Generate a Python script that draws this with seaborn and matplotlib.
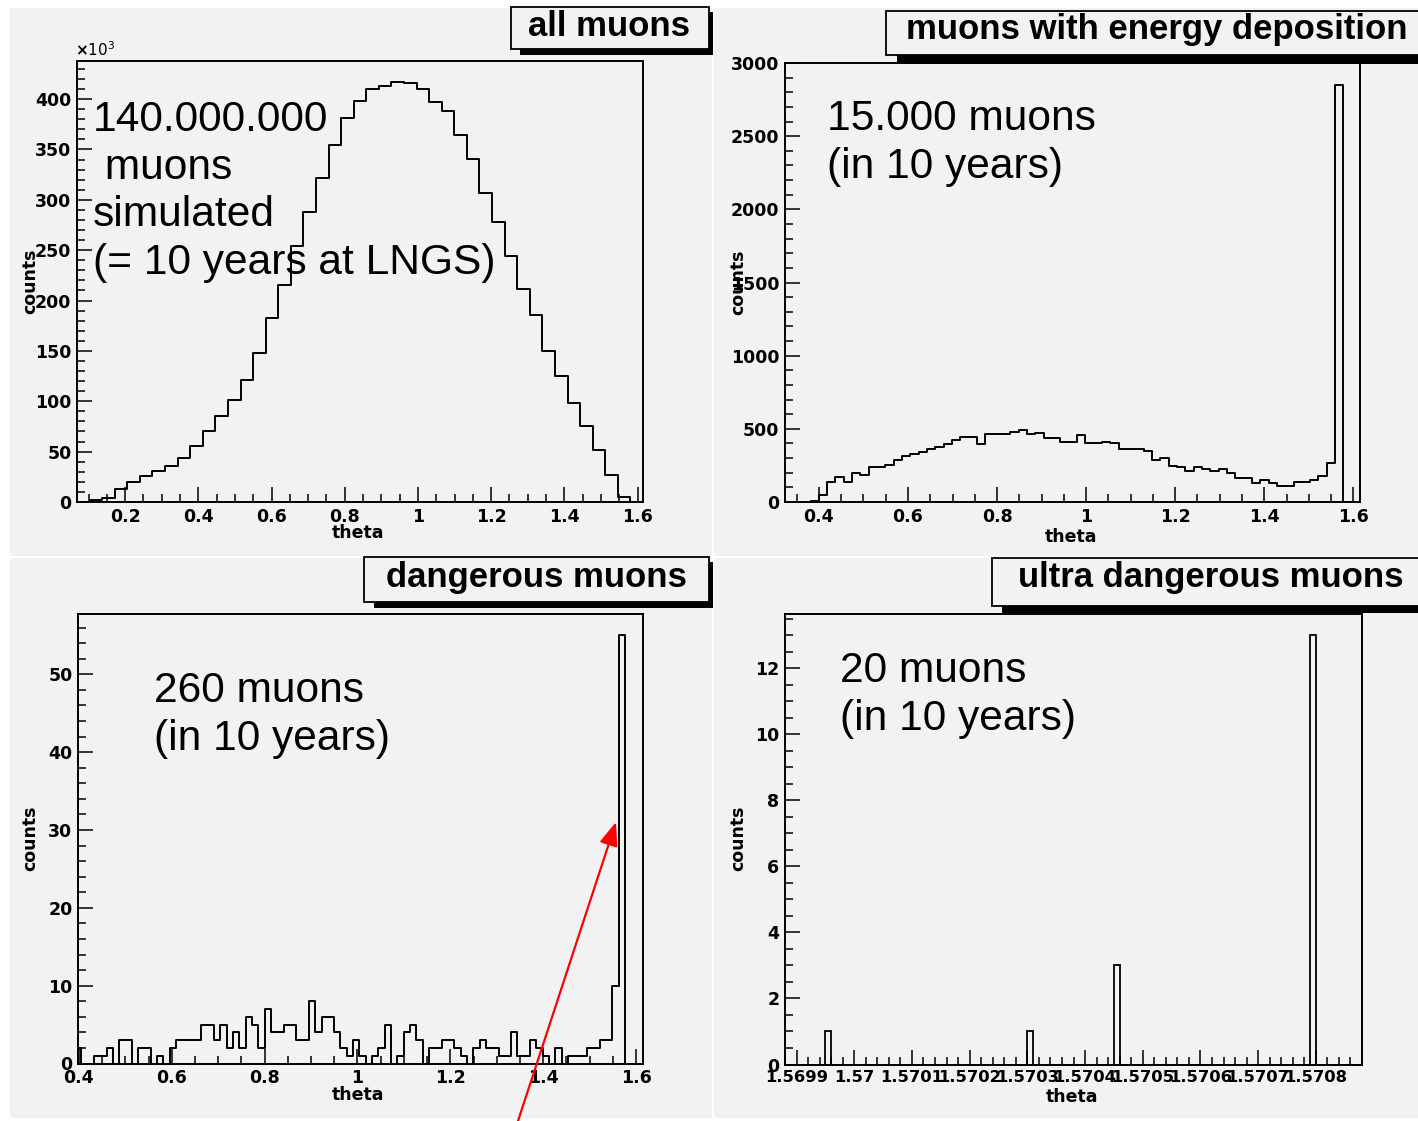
import numpy as np
import pandas as pd
import matplotlib
matplotlib.use("Agg")
import matplotlib.pyplot as plt
import seaborn as sns
from matplotlib.patches import Rectangle, FancyArrowPatch
from matplotlib.ticker import MultipleLocator, FixedLocator, FixedFormatter, FuncFormatter

# ---------------- data ----------------
# panel 1: all muons, counts in units of 10^3, 45 equal bins over the axis range
all_range = (0.0683, 1.615)
all_counts_k = [0, 2, 4, 13, 19.5, 25.5, 31, 36, 43.6, 55.7,
                70, 85, 101, 121, 148, 183, 215, 254, 288, 322,
                354, 381.5, 398.6, 410, 413.5, 417, 416, 410, 397, 388,
                364.5, 341, 307, 278, 244, 211, 185.6, 150, 125, 98.7,
                75.6, 52, 26.6, 5.3, 0]

# panel 2: muons with energy deposition
dep_first_edge = 0.3811
dep_bin_width = 0.0187
dep_counts = [10, 46, 139, 173, 139, 201, 185, 238, 238, 254,
              289, 312, 330, 339, 365, 376, 393, 427, 443, 443,
              393, 466, 466, 466, 478, 490, 462, 473, 439, 439,
              413, 413, 455, 404, 404, 413, 404, 365, 365, 365,
              351, 289, 300, 247, 238, 212, 238, 224, 215, 224,
              201, 162, 162, 127, 150, 127, 111, 111, 139, 139,
              150, 178, 266, 2850, 0]
dep_xlim = (0.3238, 1.615)
dep_ymax = 3000

# panel 3: dangerous muons
dan_first_edge = 0.3914
dan_bin_width = 0.013618
dan_counts = [2, 0, 0, 1, 1, 2, 0, 3, 3, 0,
              2, 2, 0, 1, 0, 2, 3, 3, 3, 3,
              5, 5, 3, 5, 2, 4, 2, 6, 5, 2,
              7, 4, 4, 5, 5, 3, 3, 8, 4, 6,
              6, 4, 2, 1, 3, 1, 0, 1, 2, 5,
              0, 1, 4, 5, 3, 0, 2, 2, 3, 3,
              2, 1, 0, 2, 3, 2, 2, 1, 1, 4,
              1, 1, 3, 2, 1, 0, 2, 0, 1, 1,
              1, 2, 2, 3, 3, 10, 55, 0, 0, 0]
dan_xlim = (0.398, 1.615)

# panel 4: ultra dangerous muons (bin centres and counts of the filled bins)
ultra_first_edge = 1.56988
ultra_bin_width = 1e-5
ultra_n_bins = 100
ultra_theta = [1.569955, 1.570305, 1.570455, 1.570795]
ultra_counts = [1, 1, 3, 13]
ultra_tick_values = [1.5699, 1.5700, 1.5701, 1.5702, 1.5703,
                     1.5704, 1.5705, 1.5706, 1.5707, 1.5708]
ultra_tick_labels = ["1.5699", "1.57", "1.5701", "1.5702", "1.5703",
                     "1.5704", "1.5705", "1.5706", "1.5707", "1.5708"]

titles = ["all muons", "muons with energy deposition",
          "dangerous muons", "ultra dangerous muons"]
notes = ["140.000.000\n muons\nsimulated\n(= 10 years at LNGS)",
         "15.000 muons\n(in 10 years)",
         "260 muons\n(in 10 years)",
         "20 muons\n(in 10 years)"]
x_label = "theta"
y_label = "counts"

# ---------------- style ----------------
sns.set_style("ticks")
plt.rcParams["font.family"] = ["DejaVu Sans"]
plt.rcParams["font.weight"] = "bold"
plt.rcParams["text.color"] = "black"
plt.rcParams["axes.labelcolor"] = "black"
plt.rcParams["xtick.color"] = "black"
plt.rcParams["ytick.color"] = "black"
plt.rcParams["mathtext.fontset"] = "dejavusans"
BG = "#f2f2f2"
W, H = 1418, 1121

fig = plt.figure(figsize=(W / 100, H / 100), dpi=100)
fig.patch.set_facecolor("white")


def fx(x):
    return x / W


def fy(y):
    return 1 - y / H


def rect_px(x0, y0, x1, y1, **kw):
    return Rectangle((fx(x0), fy(y1)), fx(x1) - fx(x0), fy(y0) - fy(y1),
                     transform=fig.transFigure, **kw)


# grey pads
for (x0, y0, x1, y1) in [(10, 8, 712, 556), (714, 8, 1418, 556),
                         (10, 558, 712, 1118), (714, 558, 1418, 1118)]:
    fig.add_artist(rect_px(x0, y0, x1, y1, facecolor=BG, edgecolor="none", zorder=-5))


def make_axes(l, t, r, b):
    ax = fig.add_axes([fx(l), fy(b), fx(r) - fx(l), fy(t) - fy(b)])
    ax.set_facecolor(BG)
    for s in ax.spines.values():
        s.set_linewidth(1.4)
        s.set_color("black")
        s.set_visible(True)
    ax.tick_params(which="both", direction="in", top=False, right=False,
                   width=1.1, labelsize=12.5, colors="black", pad=4)
    ax.tick_params(which="major", length=11)
    ax.tick_params(which="minor", length=5.5)
    return ax


gfmt = FuncFormatter(lambda v, p: f"{v:g}")


def step_hist(ax, edges, counts):
    centers = 0.5 * (edges[:-1] + edges[1:])
    df = pd.DataFrame({"theta": centers, "counts": counts})
    sns.histplot(data=df, x="theta", weights="counts", bins=list(edges),
                 element="step", fill=False, color="black", linewidth=1.4, ax=ax)
    ax.set_xlabel("")
    ax.set_ylabel("")


# ---- panel 1 ----
ax1 = make_axes(77, 61, 643, 502)
edges1 = np.linspace(all_range[0], all_range[1], len(all_counts_k) + 1)
step_hist(ax1, edges1, all_counts_k)
ax1.set_xlim(*all_range)
ax1.set_ylim(0, 1.05 * max(all_counts_k))
ax1.xaxis.set_major_locator(MultipleLocator(0.2))
ax1.xaxis.set_minor_locator(MultipleLocator(0.05))
ax1.yaxis.set_major_locator(MultipleLocator(50))
ax1.yaxis.set_minor_locator(MultipleLocator(10))
ax1.xaxis.set_major_formatter(gfmt)
ax1.yaxis.set_major_formatter(gfmt)

# ---- panel 2 ----
ax2 = make_axes(785, 63, 1360, 502)
edges2 = dep_first_edge + dep_bin_width * np.arange(len(dep_counts) + 1)
step_hist(ax2, edges2, dep_counts)
ax2.set_xlim(*dep_xlim)
ax2.set_ylim(0, dep_ymax)
ax2.xaxis.set_major_locator(MultipleLocator(0.2))
ax2.xaxis.set_minor_locator(MultipleLocator(0.05))
ax2.yaxis.set_major_locator(MultipleLocator(500))
ax2.yaxis.set_minor_locator(MultipleLocator(100))
ax2.xaxis.set_major_formatter(gfmt)
ax2.yaxis.set_major_formatter(gfmt)

# ---- panel 3 ----
ax3 = make_axes(78, 614, 643, 1063.5)
edges3 = dan_first_edge + dan_bin_width * np.arange(len(dan_counts) + 1)
step_hist(ax3, edges3, dan_counts)
ax3.set_xlim(*dan_xlim)
ax3.set_ylim(0, 1.05 * max(dan_counts))
ax3.xaxis.set_major_locator(MultipleLocator(0.2))
ax3.xaxis.set_minor_locator(MultipleLocator(0.05))
ax3.yaxis.set_major_locator(MultipleLocator(10))
ax3.yaxis.set_minor_locator(MultipleLocator(2))
ax3.xaxis.set_major_formatter(gfmt)
ax3.yaxis.set_major_formatter(gfmt)

# ---- panel 4 ----
ax4 = make_axes(785, 614, 1362, 1064.5)
edges4 = ultra_first_edge + ultra_bin_width * np.arange(ultra_n_bins + 1)
df4 = pd.DataFrame({"theta": ultra_theta, "counts": ultra_counts})
sns.histplot(data=df4, x="theta", weights="counts", bins=list(edges4),
             element="bars", fill=False, color="black", linewidth=1.3, ax=ax4)
ax4.set_xlabel("")
ax4.set_ylabel("")
ax4.set_xlim(edges4[0], edges4[-1])
ax4.set_ylim(0, 1.05 * max(ultra_counts))
ax4.xaxis.set_major_locator(FixedLocator(ultra_tick_values))
ax4.xaxis.set_major_formatter(FixedFormatter(ultra_tick_labels))
ax4.xaxis.set_minor_locator(MultipleLocator(ultra_bin_width * 2))
ax4.yaxis.set_major_locator(MultipleLocator(2))
ax4.yaxis.set_minor_locator(MultipleLocator(0.5))
ax4.yaxis.set_major_formatter(gfmt)
ax4.tick_params(axis="x", which="major", labelsize=11.8)

# axis labels
for (cx, cy) in [(358, 533), (1071, 537), (358, 1095), (1072, 1097)]:
    fig.text(fx(cx), fy(cy), x_label, ha="center", va="center", fontsize=12.5,
             fontweight="bold", color="black")
for (cx, cy) in [(30, 281), (738, 282), (30, 838), (738, 838)]:
    fig.text(fx(cx), fy(cy), y_label, ha="center", va="center", fontsize=12.5,
             fontweight="bold", rotation=90, color="black")
fig.text(fx(75), fy(56), r"$\times\mathregular{10^{3}}$", ha="left", va="baseline",
         fontsize=11, fontweight="normal", color="black")

# title boxes with shadow
title_geo = [
    # box x0,y0,x1,y1 ; shadow x0,y0,x1,y1 ; text centre
    ((511, 7, 709, 49), (520, 12, 713, 55), (609, 27)),
    ((886, 11, 1430, 55), (897, 16, 1430, 63.5), (1157, 29)),
    ((364, 557, 708.5, 602), (374, 562, 712.5, 607.5), (536, 577)),
    ((992, 558, 1430, 606), (1002, 563, 1430, 612.5), (1211, 578)),
]
for text, (box, sh, (tx, ty)) in zip(titles, title_geo):
    fig.add_artist(rect_px(*sh, facecolor="black", edgecolor="none", zorder=5))
    fig.add_artist(rect_px(*box, facecolor=BG, edgecolor="black", linewidth=1.3, zorder=6))
    fig.text(fx(tx), fy(ty), text, ha="center", va="center", fontsize=25,
             fontweight="bold", family=["Liberation Sans", "DejaVu Sans"],
             color="black", zorder=7)

# big annotations
for text, (tx, ty) in zip(notes, [(93, 100), (827, 99), (154, 671), (840, 651)]):
    fig.text(fx(tx), fy(ty), text, ha="left", va="top", fontsize=30.6,
             fontweight="normal", family=["Liberation Sans", "DejaVu Sans"],
             linespacing=1.25, color="black", zorder=8)

# red arrow
arrow = FancyArrowPatch((fx(517), fy(1124)), (fx(616), fy(822)),
                        transform=fig.transFigure,
                        arrowstyle="-|>,head_length=0.9,head_width=0.35",
                        mutation_scale=16, color="red", linewidth=1.6,
                        shrinkA=0, shrinkB=0, zorder=9)
fig.add_artist(arrow)

fig.savefig("out.png", dpi=100, facecolor=fig.get_facecolor())
